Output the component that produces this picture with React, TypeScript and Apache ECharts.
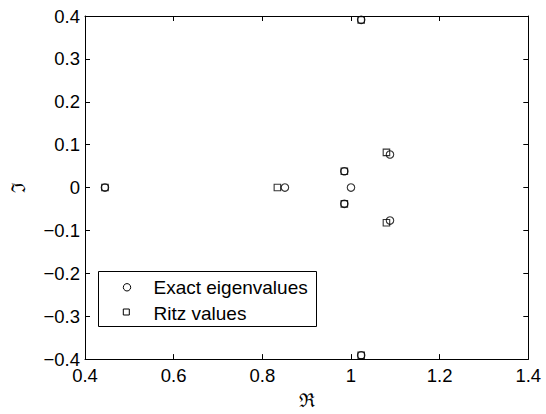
import React, { useEffect, useRef } from "react";
import * as echarts from "echarts";

const exactRe = [0.445, 0.851, 1.0, 0.985, 0.985, 1.088, 1.088, 1.023, 1.023];
const exactIm = [0, 0, 0, 0.038, -0.038, 0.077, -0.077, 0.391, -0.391];
const ritzRe = [0.445, 0.834, 0.985, 0.985, 1.08, 1.08, 1.023, 1.023];
const ritzIm = [0, 0, 0.038, -0.038, 0.082, -0.082, 0.391, -0.391];
const legendNames = ["Exact eigenvalues", "Ritz values"];
const xName = "\u211C";
const yName = "\u2111";

const FONT = "Liberation Sans, Arial, Helvetica, sans-serif";

const fmt = (v: number) => {
  const r = Math.round(v * 10) / 10;
  const s = String(Math.abs(r));
  return r < 0 ? "\u2212" + s : s;
};

export default function App() {
  const ref = useRef<HTMLDivElement>(null);
  useEffect(() => {
    if (!ref.current) return;
    const chart = echarts.init(ref.current, undefined, { renderer: "svg" });
    const axisCommon = {
      type: "value" as const,
      splitLine: { show: false },
      axisLine: { show: true, onZero: false, lineStyle: { color: "#000", width: 1 } },
      axisTick: { show: true, inside: true, length: 5, lineStyle: { color: "#000", width: 1 } },
    };
    chart.setOption({
      animation: false,
      backgroundColor: "#fff",
      grid: { left: 82.7, right: 17.7, top: 16, bottom: 47.3, containLabel: false },
      xAxis: [
        {
          ...axisCommon,
          position: "bottom",
          min: 0.4,
          max: 1.4,
          interval: 0.2,
          name: xName,
          nameLocation: "middle",
          nameGap: 24,
          nameTextStyle: { fontFamily: "DejaVu Serif", fontSize: 19, color: "#000", verticalAlign: "top" },
          axisLabel: { fontFamily: FONT, fontSize: 18.5, color: "#000", margin: 7, formatter: fmt },
        },
        {
          ...axisCommon,
          position: "top",
          min: 0.4,
          max: 1.4,
          interval: 0.2,
          axisLabel: { show: false },
        },
      ],
      yAxis: [
        {
          ...axisCommon,
          position: "left",
          min: -0.4,
          max: 0.4,
          interval: 0.1,
          name: yName,
          nameLocation: "middle",
          nameGap: 58,
          nameRotate: 90,
          nameTextStyle: { fontFamily: "DejaVu Serif", fontSize: 19, color: "#000" },
          axisLabel: { fontFamily: FONT, fontSize: 18.5, color: "#000", margin: 5, formatter: fmt },
        },
        {
          ...axisCommon,
          position: "right",
          min: -0.4,
          max: 0.4,
          interval: 0.1,
          axisLabel: { show: false },
        },
      ],
      series: [
        {
          name: legendNames[0],
          type: "scatter",
          symbol: "circle",
          symbolSize: 7.5,
          itemStyle: { color: "rgba(0,0,0,0)", borderColor: "#000", borderWidth: 1.1 },
          data: exactRe.map((x, i) => [x, exactIm[i]]),
        },
        {
          name: legendNames[1],
          type: "scatter",
          symbol: "rect",
          symbolSize: 6.5,
          itemStyle: { color: "rgba(0,0,0,0)", borderColor: "#000", borderWidth: 1.1 },
          data: ritzRe.map((x, i) => [x, ritzIm[i]]),
        },
      ],
      graphic: [
        {
          type: "rect",
          shape: { x: 98.5, y: 271.5, width: 218, height: 55 },
          style: { fill: "#fff", stroke: "#000", lineWidth: 1 },
          z: 100,
        },
        {
          type: "circle",
          shape: { cx: 127, cy: 287.3, r: 3.7 },
          style: { fill: "none", stroke: "#000", lineWidth: 1 },
          z: 101,
        },
        {
          type: "rect",
          shape: { x: 123.3, y: 309, width: 6, height: 6 },
          style: { fill: "none", stroke: "#000", lineWidth: 1 },
          z: 101,
        },
        {
          type: "text",
          x: 153.5,
          y: 287.5,
          style: { text: legendNames[0], font: `19px ${FONT}`, fill: "#000", verticalAlign: "middle", align: "left" },
          z: 101,
        },
        {
          type: "text",
          x: 153.5,
          y: 313,
          style: { text: legendNames[1], font: `19px ${FONT}`, fill: "#000", verticalAlign: "middle", align: "left" },
          z: 101,
        },
      ],
    });
    return () => chart.dispose();
  }, []);
  return (
    <div
      ref={ref}
      style={{ position: "fixed", left: 0, top: 0, width: 546, height: 414, background: "#fff" }}
    />
  );
}
